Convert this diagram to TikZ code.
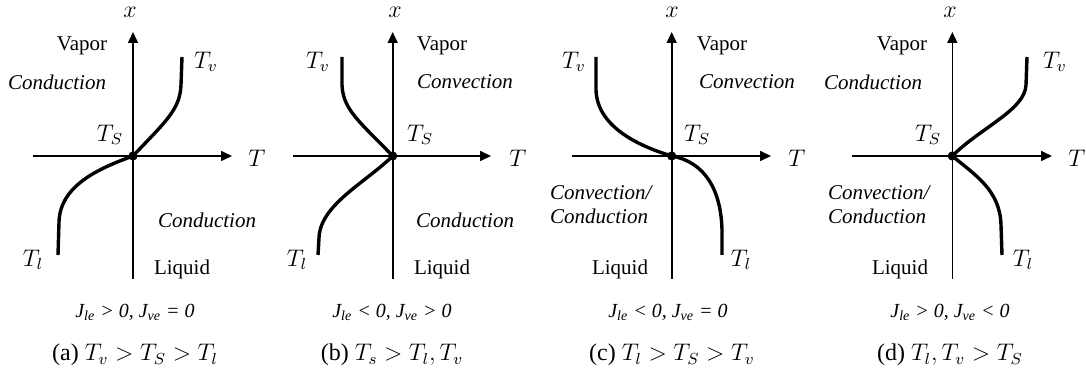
\documentclass[tikz,border=0pt]{standalone}
\usepackage{fontspec}
\setmainfont{Liberation Serif}
\usetikzlibrary{arrows.meta}
\begin{document}
\begin{tikzpicture}[x=0.5pt,y=-0.5pt,
 axis/.style={line width=0.8pt,-{Triangle[length=5.5pt,width=5pt]}},
 prof/.style={line width=1.7pt,line cap=butt},
 dotnode/.style={circle,fill,inner sep=0pt,minimum size=4.6pt},
 phase/.style={font=\fontsize{10.5}{12}\selectfont},
 mech/.style={font=\fontsize{10.5}{12}\selectfont\itshape,align=left},
 flux/.style={font=\fontsize{10}{12}\selectfont\itshape},
 ax/.style={font=\fontsize{13}{15}\selectfont},
 tlab/.style={font=\fontsize{12}{14}\selectfont},
 captxt/.style={font=\fontsize{12}{14}\selectfont}]
\useasboundingbox (0,0) rectangle (1086,383);

% ---------- panel (a) ----------
\coordinate (aO) at (133,156);
\coordinate (aB) at (133,279); \coordinate (aU) at (133,32);
\coordinate (aL) at (33,156);  \coordinate (aR) at (232,156);
\draw[axis] (aB) -- (aU);
\draw[axis] (aL) -- (aR);
\node[ax] (ax) at (130,12) {$x$};
\node[ax] (aT) at (257,158) {$T$};
\coordinate (aVe) at (182,57);
\coordinate (aLe) at (58,255);
\draw[prof] (aO) .. controls (165,122) and (180,110) .. (181,85) -- (aVe);
\draw[prof] (aO) .. controls (100,168) and (60,185) .. (59,222) -- (aLe);
\node[dotnode] (aD) at (aO) {};
\node[tlab] (aTv) at (206,62) {$T_v$};
\node[tlab] (aTl) at (33,260) {$T_l$};
\node[tlab] (aTS) at (110,135) {$T_S$};
\node[phase] (aVap) at (82,46) {Vapor};
\node[mech] (aC1) at (57,82) {Conduction};
\node[mech] (aC2) at (207,220) {Conduction};
\node[phase] (aLiq) at (182,269) {Liquid};
\node[flux] (aJ) at (135,312) {J\textsubscript{le} > 0, J\textsubscript{ve} = 0};
\node[captxt] (acap) at (135,355) {(a) $T_v > T_S > T_l$};

% ---------- panel (b) ----------
\coordinate (bO) at (392.7,156);
\coordinate (bB) at (392.7,279); \coordinate (bU) at (392.7,32);
\coordinate (bL) at (293,156);  \coordinate (bR) at (491,156);
\draw[axis] (bB) -- (bU);
\draw[axis] (bL) -- (bR);
\node[ax] (bx) at (395,12) {$x$};
\node[ax] (bT) at (518,158) {$T$};
\coordinate (bVe) at (342,57);
\coordinate (bLe) at (318,255);
\draw[prof] (bO) .. controls (360,122) and (343,110) .. (342,85) -- (bVe);
\draw[prof] (bO) .. controls (365,183) and (320,205) .. (319,238) -- (bLe);
\node[dotnode] (bD) at (bO) {};
\node[tlab] (bTv) at (318,62) {$T_v$};
\node[tlab] (bTl) at (297,260) {$T_l$};
\node[tlab] (bTS) at (420,135) {$T_S$};
\node[phase] (bVap) at (442,46) {Vapor};
\node[mech] (bC1) at (465,82) {Convection};
\node[mech] (bC2) at (465,220) {Conduction};
\node[phase] (bLiq) at (442,269) {Liquid};
\node[flux] (bJ) at (392,312) {J\textsubscript{le} < 0, J\textsubscript{ve} > 0};
\node[captxt] (bcap) at (392,355) {(b) $T_s > T_l, T_v$};

% ---------- panel (c) ----------
\coordinate (cO) at (671.7,156);
\coordinate (cB) at (671.7,279); \coordinate (cU) at (671.7,32);
\coordinate (cL) at (572,156);  \coordinate (cR) at (771,156);
\draw[axis] (cB) -- (cU);
\draw[axis] (cL) -- (cR);
\node[ax] (cx) at (672,12) {$x$};
\node[ax] (cT) at (797,158) {$T$};
\coordinate (cVe) at (596,57);
\coordinate (cLe) at (722,255);
\draw[prof] (cO) .. controls (635,145) and (597,125) .. (596,90) -- (cVe);
\draw[prof] (cO) .. controls (705,162) and (721,190) .. (722,230) -- (cLe);
\node[dotnode] (cD) at (cO) {};
\node[tlab] (cTv) at (574,62) {$T_v$};
\node[tlab] (cTl) at (741,260) {$T_l$};
\node[tlab] (cTS) at (697,135) {$T_S$};
\node[phase] (cVap) at (722,46) {Vapor};
\node[mech] (cC1) at (747,82) {Convection};
\node[mech,anchor=west] (cC2) at (543,205) {Convection/\\Conduction};
\node[phase] (cLiq) at (620,269) {Liquid};
\node[flux] (cJ) at (668,312) {J\textsubscript{le} < 0, J\textsubscript{ve} = 0};
\node[captxt] (ccap) at (672,355) {(c) $T_l > T_S > T_v$};

% ---------- panel (d) ----------
\coordinate (dO) at (952.3,156);
\coordinate (dB) at (952.3,279); \coordinate (dU) at (952.3,32);
\coordinate (dL) at (852,156);  \coordinate (dR) at (1052,156);
\draw[axis] (dB) -- (dU);
\draw[axis] (dL) -- (dR);
\node[ax] (dx) at (950,12) {$x$};
\node[ax] (dT) at (1077,158) {$T$};
\coordinate (dVe) at (1027,57);
\coordinate (dLe) at (1002,255);
\draw[prof] (dO) .. controls (980,128) and (1025,110) .. (1026,85) -- (dVe);
\draw[prof] (dO) .. controls (975,175) and (1000,190) .. (1001,225) -- (dLe);
\node[dotnode] (dD) at (dO) {};
\node[tlab] (dTv) at (1055,62) {$T_v$};
\node[tlab] (dTl) at (1023,260) {$T_l$};
\node[tlab] (dTS) at (928,135) {$T_S$};
\node[phase] (dVap) at (902,46) {Vapor};
\node[mech] (dC1) at (873,82) {Conduction};
\node[mech,anchor=west] (dC2) at (821,205) {Convection/\\Conduction};
\node[phase] (dLiq) at (900,269) {Liquid};
\node[flux] (dJ) at (950,312) {J\textsubscript{le} > 0, J\textsubscript{ve} < 0};
\node[captxt] (dcap) at (950,355) {(d) $T_l, T_v > T_S$};
\end{tikzpicture}
\end{document}
